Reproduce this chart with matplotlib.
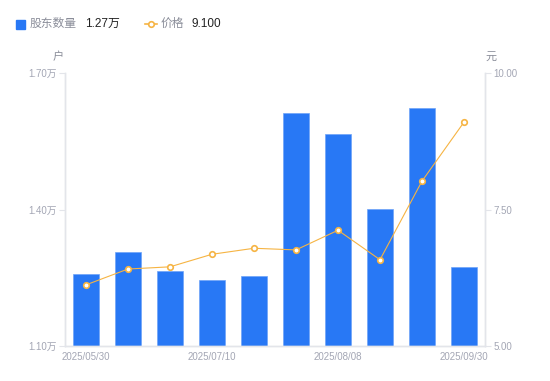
import matplotlib

matplotlib.use("Agg")

import matplotlib.pyplot as plt  # noqa: E402
from matplotlib.lines import Line2D  # noqa: E402

plt.rcParams["font.family"] = ["Liberation Sans", "Noto Sans CJK SC", "DejaVu Sans"]

BAR_COLOR = "#2878F5"
LINE_COLOR = "#F6B443"
AXIS_COLOR = "#E3E5EA"
TICK_TEXT = "#A3A6B4"
LABEL_TEXT = "#8A8D99"
VALUE_TEXT = "#222222"

dates = [
    "2025/05/30", "2025/06/10", "2025/06/20", "2025/07/10", "2025/07/20",
    "2025/07/31", "2025/08/08", "2025/08/20", "2025/08/31", "2025/09/30",
]
holders = [1.258, 1.307, 1.265, 1.245, 1.254, 1.612, 1.566, 1.401, 1.623, 1.274]  # 万户
price = [6.12, 6.41, 6.45, 6.68, 6.79, 6.76, 7.12, 6.58, 8.02, 9.10]
left_ticks = [1.10, 1.40, 1.70]
right_ticks = [5.00, 7.50, 10.00]
shown_dates = [0, 3, 6, 9]

fig = plt.figure(figsize=(5.5, 3.81), dpi=100, facecolor="white")
ax = fig.add_axes([65 / 550, 35 / 381, 420 / 550, 273 / 381])
ax2 = ax.twinx()

x = list(range(len(dates)))
ax.bar(x, holders, width=0.6, color=BAR_COLOR, edgecolor="#6FA3F8",
       linewidth=0.5, zorder=2)
ax.set_xlim(-0.5, len(dates) - 0.5)
ax.set_ylim(left_ticks[0], left_ticks[-1])
ax.set_yticks(left_ticks)
ax.set_yticklabels([f"{v:.2f}万" for v in left_ticks])
ax.set_xticks([x[i] for i in shown_dates])
ax.set_xticklabels([dates[i] for i in shown_dates])

ax2.plot(x, price, color=LINE_COLOR, linewidth=0.8, marker="o", markersize=4,
         markerfacecolor="white", markeredgecolor=LINE_COLOR,
         markeredgewidth=1.2, zorder=3)
ax2.set_ylim(right_ticks[0], right_ticks[-1])
ax2.set_yticks(right_ticks)
ax2.set_yticklabels([f"{v:.2f}" for v in right_ticks])

for a in (ax, ax2):
    a.spines["top"].set_visible(False)
    for side in ("left", "right", "bottom"):
        a.spines[side].set_color(AXIS_COLOR)
        a.spines[side].set_linewidth(1)
    a.tick_params(axis="y", colors=AXIS_COLOR, labelcolor=TICK_TEXT,
                  labelsize=7, length=4, width=0.8, pad=2)
ax.tick_params(axis="x", length=0, labelcolor=TICK_TEXT, labelsize=7, pad=4)

ax.text(-0.003, 1.04, "户", transform=ax.transAxes, ha="right", va="bottom",
        fontsize=8, color=LABEL_TEXT)
ax.text(1.0, 1.04, "元", transform=ax.transAxes, ha="left", va="bottom",
        fontsize=8, color=LABEL_TEXT)

# legend row
fig.patches.append(plt.Rectangle((16 / 550, 1 - 29 / 381), 9 / 550, 9 / 381,
                                 transform=fig.transFigure, color=BAR_COLOR))
fig.text(30 / 550, 1 - 24 / 381, "股东数量", ha="left", va="center",
         fontsize=8.5, color=LABEL_TEXT)
fig.text(85 / 550, 1 - 24 / 381, f"{holders[-1]:.2f}万", ha="left", va="center",
         fontsize=8.5, color=VALUE_TEXT)
fig.lines.append(Line2D([145 / 550, 157 / 550], [1 - 24 / 381, 1 - 24 / 381],
                        transform=fig.transFigure, color=LINE_COLOR, linewidth=1.2))
fig.lines.append(Line2D([151 / 550], [1 - 24 / 381], transform=fig.transFigure,
                        marker="o", markersize=4, markerfacecolor="white",
                        markeredgecolor=LINE_COLOR, markeredgewidth=1.2))
fig.text(161 / 550, 1 - 24 / 381, "价格", ha="left", va="center",
         fontsize=8.5, color=LABEL_TEXT)
fig.text(191 / 550, 1 - 24 / 381, f"{price[-1]:.3f}", ha="left", va="center",
         fontsize=8.5, color=VALUE_TEXT)

fig.savefig("out.png", dpi=100, facecolor="white")
